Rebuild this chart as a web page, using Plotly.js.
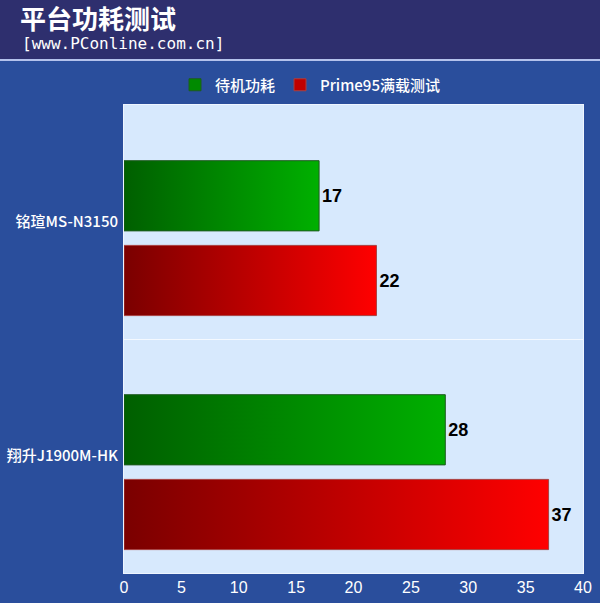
<!DOCTYPE html>
<html>
<head>
<meta charset="utf-8">
<script src="https://cdn.plot.ly/plotly-3.0.1.min.js"></script>
<style>
html,body{margin:0;padding:0;}
body{width:600px;height:603px;overflow:hidden;
background:linear-gradient(to bottom,#2e2f6e 0px,#2e2f6e 59px,#b4c2ec 59px,#b4c2ec 61px,#2a4e9c 61px,#2a4e9c 603px);}
#chart{width:600px;height:603px;}
</style>
</head>
<body>
<div id="chart"></div>
<script>
const categories = ['铭瑄MS-N3150', '翔升J1900M-HK'];
const idleValues = [17, 28];
const loadValues = [22, 37];
const seriesNames = ['待机功耗', 'Prime95满载测试'];
const xTicks = [0, 5, 10, 15, 20, 25, 30, 35, 40];

const traces = [
  {
    type: 'bar', orientation: 'h', name: seriesNames[0],
    y: categories, x: idleValues,
    offset: -0.262, width: 0.3,
    marker: {color: '#008a00', line: {color: '#1f5a1f', width: 1}},
    text: idleValues.map(String), textposition: 'outside',
    textfont: {family: 'Liberation Sans, Arial, sans-serif', size: 18, color: '#000000', weight: 'bold'},
    cliponaxis: false, hoverinfo: 'none'
  },
  {
    type: 'bar', orientation: 'h', name: seriesNames[1],
    y: categories, x: loadValues,
    offset: 0.10, width: 0.3,
    marker: {color: '#c00000', line: {color: '#a84040', width: 1}},
    text: loadValues.map(String), textposition: 'outside',
    textfont: {family: 'Liberation Sans, Arial, sans-serif', size: 18, color: '#000000', weight: 'bold'},
    cliponaxis: false, hoverinfo: 'none'
  }
];

const layout = {
  width: 600, height: 603,
  paper_bgcolor: 'rgba(0,0,0,0)',
  plot_bgcolor: '#d7e9fd',
  margin: {l: 124, r: 17, t: 105, b: 30},
  barmode: 'group',
  showlegend: true,
  title: {
    text: '平台功耗测试',
    font: {family: 'Noto Sans CJK SC, sans-serif', size: 26, color: '#ffffff', weight: 'bold'},
    x: 20/600, xanchor: 'left', xref: 'container',
    y: 1 - 20/603, yanchor: 'middle', yref: 'container'
  },
  annotations: [{
    text: '[www.PConline.com.cn]',
    xref: 'paper', yref: 'paper',
    x: (20 - 124) / 460, xanchor: 'left',
    y: 1 + (105 - 43) / 468, yanchor: 'middle',
    showarrow: false,
    font: {family: 'DejaVu Sans Mono, Liberation Mono, monospace', size: 16, color: '#ffffff'}
  }],
  legend: {
    orientation: 'h',
    xref: 'container', yref: 'container',
    x: 310/600, xanchor: 'center',
    y: 1 - 85/603, yanchor: 'middle',
    font: {family: 'Noto Sans CJK SC, sans-serif', size: 15, color: '#ffffff', weight: 500},
    bgcolor: 'rgba(0,0,0,0)',
    itemclick: false, itemdoubleclick: false
  },
  xaxis: {
    range: [0, 40],
    tickvals: xTicks,
    ticktext: xTicks.map(String),
    showgrid: false, zeroline: false,
    showline: true, linecolor: '#eef5ff', linewidth: 1, mirror: true,
    ticks: '',
    tickfont: {family: 'Liberation Sans, Arial, sans-serif', size: 16, color: '#ffffff'}
  },
  yaxis: {
    type: 'category',
    categoryorder: 'array', categoryarray: categories,
    range: [1.5, -0.5],
    tickson: 'boundaries',
    showgrid: true, gridcolor: '#f4f9ff', gridwidth: 1,
    showline: true, linecolor: '#eef5ff', linewidth: 1, mirror: true,
    zeroline: false,
    ticks: '',
    ticklabelstandoff: 2,
    tickfont: {family: 'Noto Sans CJK SC, sans-serif', size: 15, color: '#ffffff', weight: 500}
  }
};

const gradients = [
  {id: 'gradGreen', from: '#005f00', to: '#00b000'},
  {id: 'gradRed', from: '#7a0000', to: '#ff0000'}
];

Plotly.newPlot('chart', traces, layout, {staticPlot: true}).then(function (gd) {
  const svgNS = 'http://www.w3.org/2000/svg';
  const defs = gd.querySelector('.main-svg defs');
  gradients.forEach(function (g) {
    const lg = document.createElementNS(svgNS, 'linearGradient');
    lg.setAttribute('id', g.id);
    lg.setAttribute('x1', '0'); lg.setAttribute('y1', '0');
    lg.setAttribute('x2', '1'); lg.setAttribute('y2', '0');
    const s1 = document.createElementNS(svgNS, 'stop');
    s1.setAttribute('offset', '0'); s1.setAttribute('stop-color', g.from);
    const s2 = document.createElementNS(svgNS, 'stop');
    s2.setAttribute('offset', '1'); s2.setAttribute('stop-color', g.to);
    lg.appendChild(s1); lg.appendChild(s2);
    defs.appendChild(lg);
  });
  const traceGroups = gd.querySelectorAll('.barlayer .trace');
  traceGroups.forEach(function (tg, i) {
    tg.querySelectorAll('.point path').forEach(function (p) {
      p.style.fill = 'url(#' + gradients[i].id + ')';
    });
  });
});
</script>
</body>
</html>
